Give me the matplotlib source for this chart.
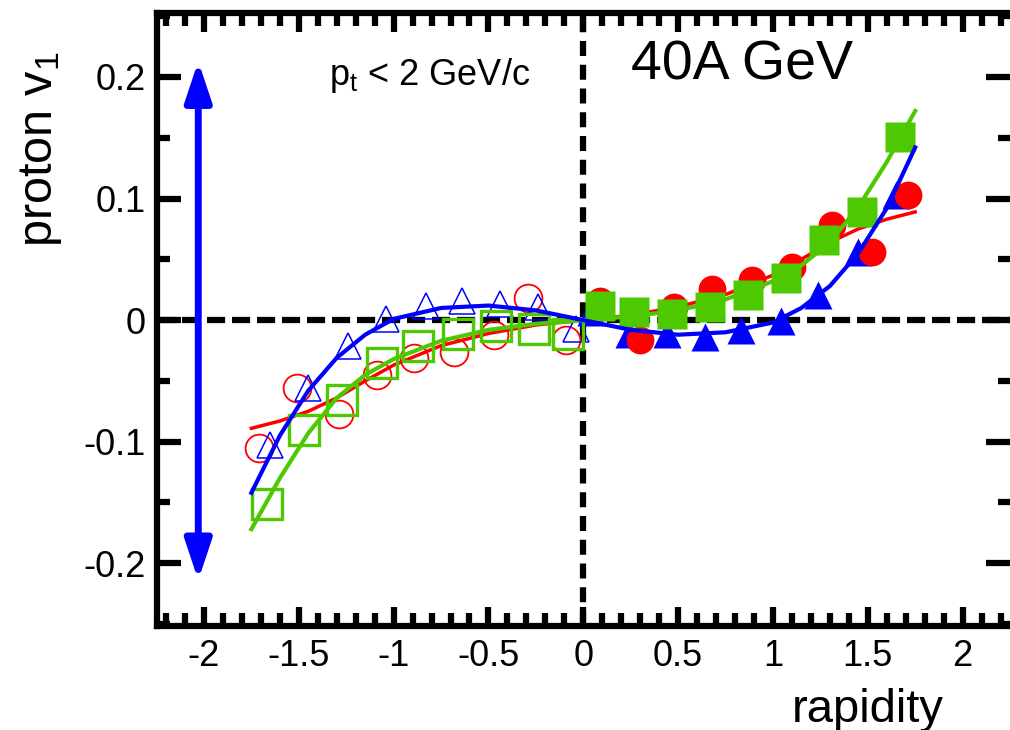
import matplotlib
matplotlib.use("Agg")
import matplotlib.pyplot as plt

plt.rcParams['font.family'] = ['Liberation Sans', 'DejaVu Sans']
plt.rcParams['mathtext.default'] = 'regular'
plt.rcParams['axes.unicode_minus'] = False

# filled symbols, forward rapidity
sq_x = [0.09, 0.27, 0.47, 0.67, 0.87, 1.07, 1.27, 1.47, 1.67]
sq_y = [0.012, 0.007, 0.005, 0.011, 0.021, 0.035, 0.066, 0.089, 0.151]
circ_x = [0.09, 0.30, 0.48, 0.68, 0.89, 1.10, 1.31, 1.52, 1.71]
circ_y = [0.016, -0.016, 0.011, 0.026, 0.033, 0.044, 0.078, 0.056, 0.103]
tri_x = [0.04, 0.24, 0.44, 0.64, 0.83, 1.04, 1.24, 1.45, 1.65]
tri_y = [0.007, -0.011, -0.011, -0.014, -0.008, -0.001, 0.021, 0.056, 0.103]

# open symbols, backward rapidity
osq_x = [-1.67, -1.47, -1.27, -1.06, -0.87, -0.66, -0.46, -0.26, -0.08]
osq_y = [-0.151, -0.090, -0.066, -0.035, -0.021, -0.011, -0.005, -0.007, -0.011]
ocirc_x = [-1.71, -1.51, -1.29, -1.09, -0.89, -0.68, -0.47, -0.29, -0.09]
ocirc_y = [-0.105, -0.056, -0.077, -0.045, -0.031, -0.026, -0.012, 0.018, -0.016]
otri_x = [-1.65, -1.45, -1.24, -1.04, -0.83, -0.64, -0.44, -0.24, -0.04]
otri_y = [-0.103, -0.056, -0.021, 0.001, 0.012, 0.016, 0.013, 0.011, -0.007]

# fit curves
fit_x = [-1.75, -1.6, -1.45, -1.3, -1.15, -1.0, -0.75, -0.5, -0.25, 0,
         0.25, 0.5, 0.75, 1.0, 1.15, 1.3, 1.45, 1.6, 1.75]
fit_blue = [-0.142, -0.095, -0.058, -0.031, -0.012, 0.001, 0.010, 0.012, 0.008, 0.0,
            -0.008, -0.012, -0.010, -0.002, 0.010, 0.028, 0.055, 0.092, 0.142]
fit_green = [-0.172, -0.130, -0.093, -0.064, -0.045, -0.032, -0.017, -0.008, -0.003, 0.0,
             0.003, 0.008, 0.017, 0.032, 0.045, 0.064, 0.093, 0.130, 0.172]
fit_red = [-0.089, -0.083, -0.075, -0.064, -0.050, -0.037, -0.021, -0.011, -0.004, 0.0,
           0.004, 0.011, 0.021, 0.037, 0.050, 0.064, 0.075, 0.083, 0.089]

xticks = [-2, -1.5, -1, -0.5, 0, 0.5, 1, 1.5, 2]
xticklabels = ['-2', '-1.5', '-1', '-0.5', '0', '0.5', '1', '1.5', '2']
yticks = [-0.2, -0.1, 0, 0.1, 0.2]
yticklabels = ['-0.2', '-0.1', '0', '0.1', '0.2']

red = '#ff0000'
green = '#4ec800'
blue = '#0000ff'

fig = plt.figure(figsize=(10.1, 7.3), dpi=100)
ax = fig.add_axes([0.155, 0.1418, 0.845, 0.841])
ax.set_xlim(-2.25, 2.25)
ax.set_ylim(-0.252, 0.253)

ax.axhline(0, color='black', lw=4.5, dashes=(2.9, 1.1), zorder=1.5)
ax.axvline(0, color='black', lw=4.5, dashes=(2.4, 1.4), zorder=1.5)

ax.plot(fit_x, fit_red, color=red, lw=2.5, zorder=2)

ax.plot(ocirc_x, ocirc_y, 'o', ms=20, mfc='none', mec=red, mew=1.3, zorder=3)
ax.plot(otri_x, otri_y, '^', ms=19, mfc='none', mec=blue, mew=1.1, zorder=3)
ax.plot(osq_x, osq_y, 's', ms=21, mfc='none', mec=green, mew=2.4, zorder=3.2)

ax.plot(tri_x, tri_y, '^', ms=20, color=blue, mec='none', zorder=3)
ax.plot(circ_x, circ_y, 'o', ms=20, color=red, mec='none', zorder=3.1)
ax.plot(sq_x, sq_y, 's', ms=22, color=green, mec='none', zorder=3.3)

ax.plot(fit_x, fit_green, color=green, lw=3, zorder=4)
ax.plot(fit_x, fit_blue, color=blue, lw=3, zorder=5)

ax.annotate('', xy=(-2.03, 0.213), xytext=(-2.03, -0.214),
            arrowprops=dict(arrowstyle='<|-|>,head_length=0.6,head_width=0.2',
                            color=blue, lw=5, mutation_scale=40,
                            shrinkA=0, shrinkB=0),
            zorder=5)

ax.text(-1.34, 0.193, r'p$_t$ < 2 GeV/c', fontsize=26, ha='left', va='baseline')
ax.text(0.25, 0.198, '40A GeV', fontsize=40, ha='left', va='baseline')

ax.set_xticks(xticks)
ax.set_xticklabels(xticklabels)
ax.set_yticks(yticks)
ax.set_yticklabels(yticklabels)
ax.set_xticks([i / 10 for i in range(-22, 23)], minor=True)
ax.set_yticks([i / 100 for i in range(-25, 26, 5)], minor=True)

ax.tick_params(which='both', direction='in', top=True, right=True, width=4.5,
               labelsize=26)
ax.tick_params(axis='x', which='major', length=14, pad=9)
ax.tick_params(axis='x', which='minor', length=9.5)
ax.tick_params(axis='y', which='major', length=17, pad=8)
ax.tick_params(axis='y', which='minor', length=9)

for side in ['left', 'top', 'bottom']:
    ax.spines[side].set_linewidth(4.5)
ax.spines['right'].set_visible(False)

ax.set_xlabel('rapidity', fontsize=34)
ax.xaxis.set_label_coords(0.833, -0.1)
ax.set_ylabel('proton v$_1$', fontsize=35)
ax.yaxis.set_label_coords(-0.108, 0.777)

fig.savefig('out.png', dpi=100)
